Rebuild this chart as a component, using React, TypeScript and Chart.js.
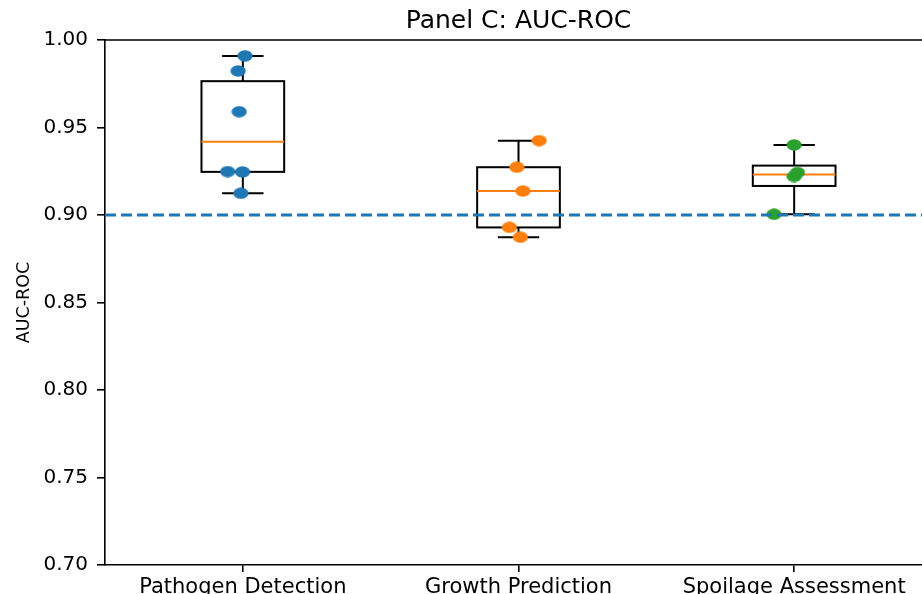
import React, { useEffect, useRef } from 'react';
import { Chart, registerables } from 'chart.js';

Chart.register(...registerables);

const categories = ['Pathogen Detection', 'Growth Prediction', 'Spoilage Assessment'];
const pathogenValues = [0.9909, 0.9823, 0.959, 0.9248, 0.9246, 0.9124];
const pathogenJitter = [0.008, -0.017, -0.013, -0.055, -0.001, -0.007];
const growthValues = [0.9425, 0.9273, 0.9137, 0.8929, 0.8873];
const growthJitter = [0.075, -0.006, 0.016, -0.033, 0.007];
const spoilageValues = [0.94, 0.9243, 0.922, 0.9004];
const spoilageJitter = [0.0, 0.012, 0.0, -0.073];
const seriesColors = ['#1f77b4', '#ff7f0e', '#2ca02c'];
const threshold = 0.9;
const yMin = 0.7;
const yMax = 1.0;
const yStep = 0.05;
const xMin = 0.5;
const xMax = 3.5;
const titleText = 'Panel C: AUC-ROC';
const yAxisLabel = 'AUC-ROC';

const allValues = [pathogenValues, growthValues, spoilageValues];
const allJitter = [pathogenJitter, growthJitter, spoilageJitter];

function quantile(sorted: number[], q: number) {
  const pos = (sorted.length - 1) * q;
  const lo = Math.floor(pos);
  const hi = Math.ceil(pos);
  return sorted[lo] + (sorted[hi] - sorted[lo]) * (pos - lo);
}

function boxStats(values: number[]) {
  const s = [...values].sort((a, b) => a - b);
  const q1 = quantile(s, 0.25);
  const med = quantile(s, 0.5);
  const q3 = quantile(s, 0.75);
  const iqr = q3 - q1;
  const lo = Math.min(...s.filter((v) => v >= q1 - 1.5 * iqr));
  const hi = Math.max(...s.filter((v) => v <= q3 + 1.5 * iqr));
  return { q1, med, q3, lo, hi };
}

function makeEllipse(color: string) {
  const c = document.createElement('canvas');
  c.width = 16;
  c.height = 12;
  const ctx = c.getContext('2d')!;
  ctx.fillStyle = color;
  ctx.beginPath();
  ctx.ellipse(8, 6, 7.6, 5.8, 0, 0, Math.PI * 2);
  ctx.fill();
  return c;
}

const boxPlugin = {
  id: 'boxPlugin',
  beforeDatasetsDraw(chart: any) {
    const { ctx, scales } = chart;
    const xs = scales.x;
    const ys = scales.y;
    ctx.save();
    allValues.forEach((vals, i) => {
      const st = boxStats(vals);
      const pos = i + 1;
      const xc = xs.getPixelForValue(pos);
      const xl = xs.getPixelForValue(pos - 0.15);
      const xr = xs.getPixelForValue(pos + 0.15);
      const cl = xs.getPixelForValue(pos - 0.075);
      const cr = xs.getPixelForValue(pos + 0.075);
      const yq1 = ys.getPixelForValue(st.q1);
      const yq3 = ys.getPixelForValue(st.q3);
      const ymed = ys.getPixelForValue(st.med);
      const ylo = ys.getPixelForValue(st.lo);
      const yhi = ys.getPixelForValue(st.hi);
      ctx.strokeStyle = '#000';
      ctx.lineWidth = 2;
      ctx.beginPath();
      ctx.moveTo(xc, yq3);
      ctx.lineTo(xc, yhi);
      ctx.moveTo(cl, yhi);
      ctx.lineTo(cr, yhi);
      ctx.moveTo(xc, yq1);
      ctx.lineTo(xc, ylo);
      ctx.moveTo(cl, ylo);
      ctx.lineTo(cr, ylo);
      ctx.stroke();
      ctx.strokeRect(xl, yq3, xr - xl, yq1 - yq3);
      ctx.strokeStyle = '#ff7f0e';
      ctx.beginPath();
      ctx.moveTo(xl, ymed);
      ctx.lineTo(xr, ymed);
      ctx.stroke();
    });
    ctx.restore();
  },
  afterDraw(chart: any) {
    const { ctx, chartArea } = chart;
    ctx.save();
    ctx.strokeStyle = '#000';
    ctx.lineWidth = 1.6;
    ctx.beginPath();
    ctx.moveTo(chartArea.left, chartArea.top);
    ctx.lineTo(chartArea.right, chartArea.top);
    ctx.lineTo(chartArea.right, chartArea.bottom);
    ctx.stroke();
    ctx.restore();
  },
};

export default function App() {
  const ref = useRef<HTMLCanvasElement | null>(null);
  useEffect(() => {
    if (!ref.current) return;
    const scatterSets = allValues.map((vals, i) => ({
      type: 'scatter' as const,
      label: categories[i],
      data: vals.map((v, j) => ({ x: i + 1 + allJitter[i][j], y: v })),
      pointStyle: makeEllipse(seriesColors[i]),
      backgroundColor: seriesColors[i],
      borderWidth: 0,
      order: 1,
    }));
    const chart = new Chart(ref.current, {
      type: 'scatter',
      data: {
        datasets: [
          {
            type: 'line' as const,
            label: 'threshold',
            data: [
              { x: xMin, y: threshold },
              { x: xMax, y: threshold },
            ],
            borderColor: '#1f77b4',
            borderWidth: 3,
            borderDash: [11, 5],
            pointRadius: 0,
            fill: false,
            order: 0,
          },
          ...scatterSets,
        ] as any,
      },
      options: {
        responsive: false,
        animation: false,
        layout: { padding: 0 },
        plugins: {
          legend: { display: false },
          tooltip: { enabled: false },
          title: {
            display: true,
            fullSize: false,
            text: titleText,
            color: '#000',
            font: { family: 'DejaVu Sans', size: 25, weight: 'normal' },
            padding: { top: 6, bottom: 4 },
          },
        },
        scales: {
          x: {
            type: 'linear',
            min: xMin,
            max: xMax,
            afterBuildTicks: (axis: any) => {
              axis.ticks = categories.map((_, i) => ({ value: i + 1 }));
            },
            afterFit: (scale: any) => {
              scale.height = 29;
              scale.paddingLeft = 0;
              scale.paddingRight = 0;
            },
            ticks: {
              autoSkip: false,
              maxRotation: 0,
              color: '#000',
              padding: 3,
              font: { family: 'DejaVu Sans', size: 21 },
              callback: (v: any) => categories[Math.round(Number(v)) - 1] ?? '',
            },
            grid: { drawOnChartArea: false, drawTicks: true, tickLength: 7, color: '#000', lineWidth: 1.6 },
            border: { display: true, color: '#000', width: 1.6 },
          },
          y: {
            type: 'linear',
            min: yMin,
            max: yMax,
            afterFit: (scale: any) => {
              scale.width = 105;
            },
            ticks: {
              stepSize: yStep,
              color: '#000',
              padding: 9,
              font: { family: 'DejaVu Sans', size: 20 },
              callback: (v: any) => Number(v).toFixed(2),
            },
            title: {
              display: true,
              text: yAxisLabel,
              color: '#000',
              font: { family: 'DejaVu Sans', size: 17.5 },
              padding: { top: 14, bottom: 0 },
            },
            grid: { drawOnChartArea: false, drawTicks: true, tickLength: 8, color: '#000', lineWidth: 1.6 },
            border: { display: true, color: '#000', width: 1.6 },
          },
        },
      },
      plugins: [boxPlugin],
    });
    return () => chart.destroy();
  }, []);
  return (
    <div style={{ position: 'fixed', left: 0, top: 0, width: 922, height: 594, overflow: 'hidden', background: '#fff' }}>
      <canvas ref={ref} width={936} height={594} style={{ display: 'block' }} />
    </div>
  );
}
